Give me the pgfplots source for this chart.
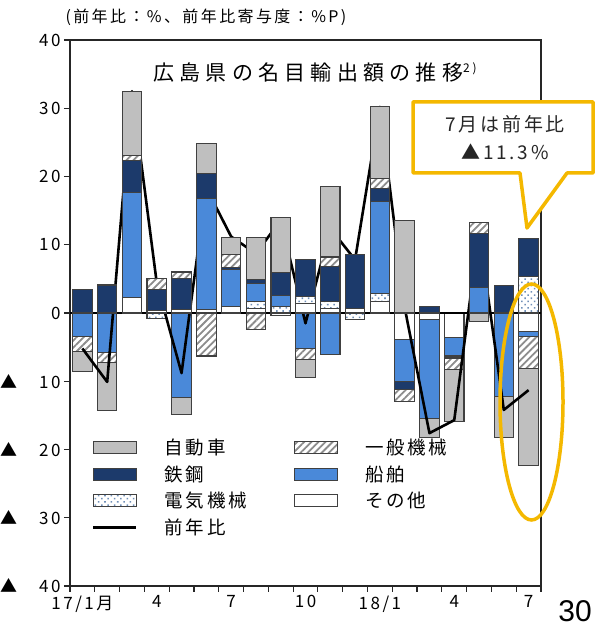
\documentclass[border=0pt]{standalone}
\usepackage{pgfplots}
\pgfplotsset{compat=1.18}
\usepackage{pgfplotstable}
\usetikzlibrary{patterns.meta}
\usepackage{fontspec}
\setmainfont{Noto Sans CJK JP}[LetterSpace=15]
\newfontfamily\arial{Liberation Sans}

\definecolor{cjido}{HTML}{BFBFBF}
\definecolor{ctekko}{HTML}{1C3A6B}
\definecolor{csen}{HTML}{4A89D9}
\definecolor{edge}{HTML}{404040}
\definecolor{hatchc}{HTML}{8C8C8C}
\definecolor{dotc}{HTML}{6F8FB8}
\definecolor{amber}{HTML}{F4B800}

\tikzset{
  hatchfill/.style={preaction={fill=white}, pattern={Lines[angle=45,distance=5pt,line width=1.8pt]}, pattern color=hatchc},
  dotfill/.style={preaction={fill=white}, pattern={Dots[angle=45,distance=4.5pt,radius=1.1pt]}, pattern color=dotc},
}
\pgfplotsset{
  barleg/.style={legend image code/.code={\draw[##1] (0pt,-6pt) rectangle (43pt,6pt);}},
  lineleg/.style={legend image code/.code={\draw[##1] (0pt,0pt) -- (43pt,0pt);}},
  sJ/.style={fill=cjido, draw=edge, line width=1.1pt},
  sI/.style={hatchfill, draw=edge, line width=1.1pt},
  sT/.style={fill=ctekko, draw=edge, line width=1.1pt},
  sS/.style={fill=csen, draw=edge, line width=1.1pt},
  sD/.style={dotfill, draw=edge, line width=1.1pt},
  sO/.style={fill=white, draw=edge, line width=1.1pt},
  base/.style={
    at={(70pt,40pt)}, anchor=south west,
    width=471pt, height=546pt, scale only axis,
    xmin=-0.5, xmax=18.5, ymin=-40, ymax=40,
    ybar stacked, bar width=19.5pt,
  },
}

% contributions by item (%P), 17/1 .. 18/7
\pgfplotstableread{
x  jido  ippan tekko senpaku denki sonota yoy
0  -2.9  -2.2  3.4   -3.5   0     0     -5.2
1  -7.0  -1.5  4.1   -5.8   0     0     -10.1
2  9.4   0.7   4.7   15.4   0     2.3   32.5
3  0     1.7   3.1   0      -0.8  0.3   4.4
4  -2.5  1.0   4.5   -12.4  0     0.5   -8.8
5  4.4   -6.3  3.6   16.3   0     0.5   18.3
6  2.5   1.9   0.3   5.4    0     1.0   11.2
7  6.2   -2.4  0.6   2.6    1.0   0.7   8.7
8  8.1   0     3.3   1.7    0.9   -0.4  13.6
9  -2.6  -1.6  5.5   -5.2   1.0   1.4   -1.5
10 10.3  1.4   5.1   -6.1   1.0   0.7   12.4
11 0     0     7.9   0      -0.9  0.7   7.8
12 10.5  1.5   1.9   13.4   1.2   1.7   30.2
13 13.6  -1.8  -1.2  -6.1   0     -3.9  0.8
14 -2.9  0     1.0   -14.5  0     -0.9  -17.6
15 -7.6  -1.7  -0.3  -2.7   0     -3.6  -15.7
16 -1.3  1.5   7.9   3.8    0     0     12.0
17 -6.1  0     4.0   -12.2  0     0     -14.2
18 -14.2 -4.7  5.6   -0.7   5.3   -2.7  -11.3
}\contrib

\begin{document}
\begin{tikzpicture}
\path[use as bounding box] (0pt,0pt) rectangle (596pt,626pt);

% negative parts
\begin{axis}[base, hide axis]
\addplot[sO] table[x=x, y expr={min(\thisrow{sonota},0)}]{\contrib};
\addplot[sD] table[x=x, y expr={min(\thisrow{denki},0)}]{\contrib};
\addplot[sS] table[x=x, y expr={min(\thisrow{senpaku},0)}]{\contrib};
\addplot[sT] table[x=x, y expr={min(\thisrow{tekko},0)}]{\contrib};
\addplot[sI] table[x=x, y expr={min(\thisrow{ippan},0)}]{\contrib};
\addplot[sJ] table[x=x, y expr={min(\thisrow{jido},0)}]{\contrib};
\end{axis}

% positive parts, line, frame and legend
\begin{axis}[base,
  axis line style={line width=1.2pt, black!85},
  tick style={line width=1.2pt, black!85},
  tick align=outside, major tick length=6pt,
  xtick pos=bottom, ytick pos=left,
  xtick={-0.5,0.5,...,18.5}, xticklabels={},
  extra x ticks={0,3,6,9,12,15,18},
  extra x tick labels={17/1月,4,7,10,18/1,4,7},
  extra x tick style={major tick length=0pt, xticklabel style={yshift=-6pt}},
  ytick={-40,-30,...,40},
  yticklabels={▲\hspace{22pt}40,▲\hspace{22pt}30,▲\hspace{22pt}20,▲\hspace{22pt}10,0,10,20,30,40},
  tick label style={font=\fontsize{17}{17}\selectfont},
  legend columns=2,
  legend cell align=left,
  legend style={draw=none, fill=none, at={(0.04,0.277)}, anchor=north west,
    font=\fontsize{18.5}{20}\selectfont, row sep=5.5pt,
    /tikz/every odd column/.append style={column sep=25pt},
    /tikz/every even column/.append style={column sep=45pt}},
]
\addlegendimage{barleg, sJ}\addlegendentry{自動車}
\addlegendimage{barleg, sI}\addlegendentry{一般機械}
\addlegendimage{barleg, sT}\addlegendentry{鉄鋼}
\addlegendimage{barleg, sS}\addlegendentry{船舶}
\addlegendimage{barleg, sD}\addlegendentry{電気機械}
\addlegendimage{barleg, sO}\addlegendentry{その他}
\addlegendimage{lineleg, black, line width=2.6pt}\addlegendentry{前年比}

\addplot[sO] table[x=x, y expr={max(\thisrow{sonota},0)}]{\contrib};
\addplot[sD] table[x=x, y expr={max(\thisrow{denki},0)}]{\contrib};
\addplot[sS] table[x=x, y expr={max(\thisrow{senpaku},0)}]{\contrib};
\addplot[sT] table[x=x, y expr={max(\thisrow{tekko},0)}]{\contrib};
\addplot[sI] table[x=x, y expr={max(\thisrow{ippan},0)}]{\contrib};
\addplot[sJ] table[x=x, y expr={max(\thisrow{jido},0)}]{\contrib};

\draw[black, line width=1.2pt] (axis cs:-0.5,0) -- (axis cs:18.5,0);
\addplot[sharp plot, stack plots=false, black, line width=2.6pt, line join=round] table[x=x, y=yoy]{\contrib};
\end{axis}

% title and notes
\node[font=\fontsize{16}{16}\selectfont, anchor=west] at (62pt,609pt) {(前年比：\%、前年比寄与度：\%P)};
\node[font=\fontsize{21}{21}\selectfont\addfontfeature{LetterSpace=25}] at (315pt,554pt)
  {広島県の名目輸出額の推移\raisebox{8pt}{\fontsize{12}{12}\selectfont 2)}};

% highlight of July
\draw[amber, line width=3.5pt] (531.5pt,224pt) ellipse [x radius=31.5pt, y radius=118pt];
\draw[amber, line width=3.5pt, fill=white, line join=round]
  (413pt,524pt) -- (593pt,524pt) -- (593pt,453pt) -- (567pt,453pt) -- (527pt,398pt)
  -- (520pt,453pt) -- (413pt,453pt) -- cycle;
\node[font=\fontsize{19}{28}\selectfont, align=center, text=black!85] at (505pt,488pt)
  {7月は前年比\\▲11.3\%};

\node[font=\arial\fontsize{30}{30}\selectfont, anchor=base, inner sep=0pt] at (575pt,5pt) {30};
\end{tikzpicture}
\end{document}
